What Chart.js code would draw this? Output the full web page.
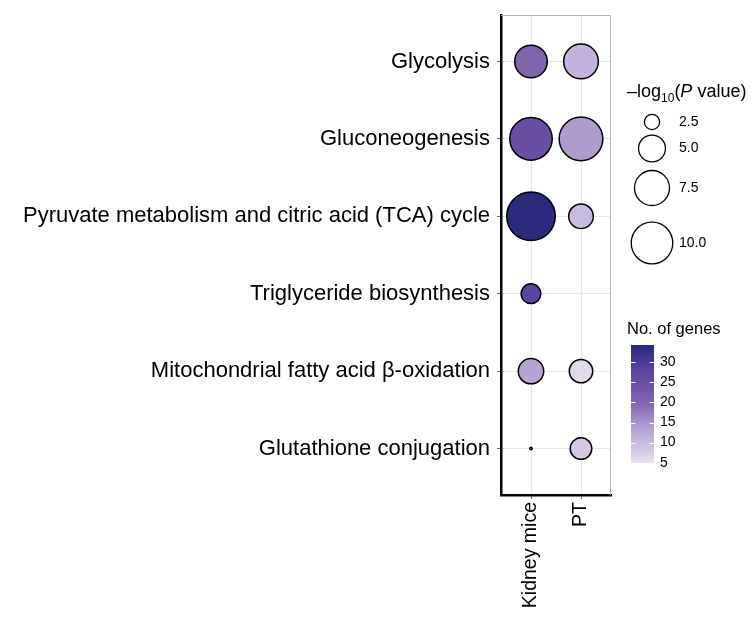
<!DOCTYPE html>
<html>
<head>
<meta charset="utf-8">
<script src="https://cdn.jsdelivr.net/npm/chart.js@4.4.1/dist/chart.umd.min.js"></script>
<style>
  html, body { margin: 0; padding: 0; background: #fff; }
  canvas { display: block; }
</style>
</head>
<body>
<canvas id="grafico" width="755" height="619"></canvas>
<script>
// Dados
const pathways = [
    'Glycolysis',
    'Gluconeogenesis',
    'Pyruvate metabolism and citric acid (TCA) cycle',
    'Triglyceride biosynthesis',
    'Mitochondrial fatty acid \u03B2-oxidation',
    'Glutathione conjugation'
];
const groups = ['Kidney mice', 'PT'];

// -log10(P value)
const logPKidney = [6.7, 10.4, 13.1, 3.3, 4.6, 1.2];
const logPPT = [7.4, 10.9, 4.4, null, 4.1, 3.7];

// No. of genes
const genesKidney = [20, 25, 34, 28, 13, 5];
const genesPT = [11, 14, 10, null, 6, 8];

const sizeBreaks = [2.5, 5.0, 7.5, 10.0];
const geneTicks = [5, 10, 15, 20, 25, 30];
const geneMin = 5;
const geneMax = 34.2;

// Escala de cor (gradiente do roxo claro ao azul escuro)
const colourStops = [
    [5, '#e7e3f2'], [8, '#d4c8e4'], [11, '#c3b3dc'], [14, '#b09bcf'],
    [20, '#8163ad'], [25, '#6a4ea3'], [28, '#5b44a0'], [34.2, '#29297c']
];

const FONTE = "'Liberation Sans', Arial, sans-serif";

function hexRgb(h) {
    return [1, 3, 5].map(i => parseInt(h.slice(i, i + 2), 16));
}

function corGenes(n) {
    if (n <= colourStops[0][0]) return colourStops[0][1];
    for (let i = 1; i < colourStops.length; i++) {
        const [v1, c1] = colourStops[i];
        const [v0, c0] = colourStops[i - 1];
        if (n <= v1) {
            const t = (n - v0) / (v1 - v0);
            const a = hexRgb(c0), b = hexRgb(c1);
            const m = a.map((x, k) => Math.round(x + (b[k] - x) * t));
            return `rgb(${m[0]},${m[1]},${m[2]})`;
        }
    }
    return colourStops[colourStops.length - 1][1];
}

// Escala de tamanho (área proporcional ao valor)
function raio(v) {
    const d = Math.sqrt(Math.max(4, 278 + 209 * (v - 2.5)));
    return Math.max(1.2, d / 2 - 0.7);
}

function montarPontos() {
    const pontos = [];
    pathways.forEach((p, i) => {
        if (logPKidney[i] !== null) {
            pontos.push({ x: 1, y: i + 1, r: raio(logPKidney[i]), n: genesKidney[i] });
        }
        if (logPPT[i] !== null) {
            pontos.push({ x: 2, y: i + 1, r: raio(logPPT[i]), n: genesPT[i] });
        }
    });
    return pontos;
}

// Moldura cinza (topo e direita)
const moldura = {
    id: 'moldura',
    beforeDatasetsDraw(chart) {
        const { ctx, chartArea: a } = chart;
        ctx.save();
        ctx.strokeStyle = '#b5b5b5';
        ctx.lineWidth = 1;
        ctx.beginPath();
        ctx.moveTo(a.left, a.top + 0.5);
        ctx.lineTo(a.right - 0.5, a.top + 0.5);
        ctx.lineTo(a.right - 0.5, a.bottom);
        ctx.stroke();
        ctx.restore();
    }
};

// Legendas (tamanho e barra de cor)
const legendas = {
    id: 'legendas',
    afterDraw(chart) {
        const ctx = chart.ctx;
        ctx.save();
        ctx.fillStyle = '#000';
        ctx.textBaseline = 'alphabetic';
        ctx.textAlign = 'left';

        // Título: –log10(P value)
        let x = 627;
        const yT = 97;
        ctx.font = `18px ${FONTE}`;
        ctx.fillText('\u2013log', x, yT);
        x += ctx.measureText('\u2013log').width;
        ctx.font = `12px ${FONTE}`;
        ctx.fillText('10', x, yT + 5);
        x += ctx.measureText('10').width;
        ctx.font = `18px ${FONTE}`;
        ctx.fillText('(', x, yT);
        x += ctx.measureText('(').width;
        ctx.font = `italic 18px ${FONTE}`;
        ctx.fillText('P', x, yT);
        x += ctx.measureText('P').width;
        ctx.font = `18px ${FONTE}`;
        ctx.fillText(' value)', x, yT);

        const centros = [122, 148.5, 188, 243];
        ctx.lineWidth = 1.3;
        ctx.strokeStyle = '#000';
        ctx.font = `14px ${FONTE}`;
        ctx.textBaseline = 'middle';
        sizeBreaks.forEach((v, i) => {
            ctx.beginPath();
            ctx.arc(652, centros[i], raio(v), 0, Math.PI * 2);
            ctx.fillStyle = '#fff';
            ctx.fill();
            ctx.stroke();
            ctx.fillStyle = '#000';
            ctx.fillText(v.toFixed(1), 679, centros[i]);
        });

        // Barra de cor: No. of genes
        ctx.textBaseline = 'alphabetic';
        ctx.font = `16.5px ${FONTE}`;
        ctx.fillText('No. of genes', 627, 334);

        const bx = 631, bw = 23;
        const yDe = v => 462.7 - (v - geneMin) * 4.02;
        const yTopo = Math.round(yDe(geneMax));
        const yBase = Math.round(yDe(geneMin));
        for (let y = yTopo; y < yBase; y++) {
            const v = geneMin + (462.7 - y - 0.5) / 4.02;
            ctx.fillStyle = corGenes(v);
            ctx.fillRect(bx, y, bw, 1);
        }
        ctx.strokeStyle = '#fff';
        ctx.lineWidth = 1;
        ctx.font = `14px ${FONTE}`;
        ctx.textBaseline = 'middle';
        geneTicks.forEach(v => {
            const y = Math.round(yDe(v)) + 0.5;
            ctx.beginPath();
            ctx.moveTo(bx, y); ctx.lineTo(bx + 4.5, y);
            ctx.moveTo(bx + bw - 4.5, y); ctx.lineTo(bx + bw, y);
            ctx.stroke();
            ctx.fillStyle = '#000';
            ctx.fillText(String(v), 660, yDe(v));
        });
        ctx.restore();
    }
};

Chart.defaults.font.family = FONTE;

const ctx = document.getElementById('grafico').getContext('2d');
new Chart(ctx, {
    type: 'bubble',
    data: {
        datasets: [{
            data: montarPontos(),
            backgroundColor: c => corGenes(c.raw ? c.raw.n : 5),
            borderColor: '#000',
            borderWidth: 1.5
        }]
    },
    options: {
        responsive: false,
        animation: false,
        layout: {
            autoPadding: false,
            padding: { top: 15, right: 144, left: 0, bottom: 0 }
        },
        plugins: {
            legend: { display: false },
            tooltip: { enabled: false }
        },
        scales: {
            x: {
                type: 'linear',
                min: 0.4,
                max: 2.6,
                afterBuildTicks: axis => { axis.ticks = groups.map((g, i) => ({ value: i + 1 })); },
                afterFit: axis => {
                    axis.height = 124;
                    axis.paddingLeft = 0;
                    axis.paddingRight = 0;
                },
                ticks: {
                    callback: v => groups[v - 1],
                    minRotation: 90,
                    maxRotation: 90,
                    autoSkip: false,
                    color: '#000',
                    font: { size: 19.5 },
                    padding: 3
                },
                grid: { color: '#e6e6e6', tickColor: '#666', tickLength: 4 },
                border: { color: '#000', width: 2.5 }
            },
            y: {
                type: 'linear',
                min: 0.4,
                max: 6.6,
                reverse: true,
                afterBuildTicks: axis => { axis.ticks = pathways.map((p, i) => ({ value: i + 1 })); },
                afterFit: axis => {
                    axis.width = 501;
                    axis.paddingTop = 0;
                    axis.paddingBottom = 0;
                },
                ticks: {
                    callback: v => pathways[v - 1],
                    autoSkip: false,
                    color: '#000',
                    font: { size: 22 },
                    padding: 7
                },
                grid: { color: '#e6e6e6', tickColor: '#666', tickLength: 4 },
                border: { color: '#000', width: 2.5 }
            }
        }
    },
    plugins: [moldura, legendas]
});
</script>
</body>
</html>
